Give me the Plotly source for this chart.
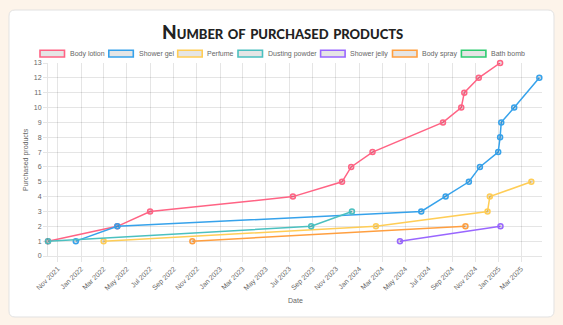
import plotly.graph_objects as go

# ---------------- data ----------------
body_lotion_dates = ["2021-10-06", "2022-04-06", "2022-07-01", "2023-07-11", "2023-11-17",
                     "2023-12-11", "2024-02-05", "2024-08-08", "2024-09-25", "2024-10-03",
                     "2024-11-10", "2025-01-05"]
body_lotion_vals = [1, 2, 3, 4, 5, 6, 7, 9, 10, 11, 12, 13]

shower_gel_dates = ["2021-12-18", "2022-04-06", "2024-06-12", "2024-08-15", "2024-10-15",
                    "2024-11-13", "2024-12-31", "2025-01-05", "2025-01-08", "2025-02-11",
                    "2025-04-18"]
shower_gel_vals = [1, 2, 3, 4, 5, 6, 7, 8, 9, 10, 12]

perfume_dates = ["2022-03-01", "2024-02-14", "2024-12-03", "2024-12-09", "2025-03-28"]
perfume_vals = [1, 2, 3, 4, 5]

dusting_powder_dates = ["2021-10-06", "2023-08-28", "2023-12-13"]
dusting_powder_vals = [1, 2, 3]

shower_jelly_dates = ["2024-04-17", "2025-01-06"]
shower_jelly_vals = [1, 2]

body_spray_dates = ["2022-10-20", "2024-10-06"]
body_spray_vals = [1, 2]

bath_bomb_dates = []
bath_bomb_vals = []

series_names = ["Body lotion", "Shower gel", "Perfume", "Dusting powder",
                "Shower jelly", "Body spray", "Bath bomb"]
series_dates = [body_lotion_dates, shower_gel_dates, perfume_dates, dusting_powder_dates,
                shower_jelly_dates, body_spray_dates, bath_bomb_dates]
series_vals = [body_lotion_vals, shower_gel_vals, perfume_vals, dusting_powder_vals,
               shower_jelly_vals, body_spray_vals, bath_bomb_vals]
series_colors = ["rgb(255,99,132)", "rgb(54,162,235)", "rgb(255,205,86)", "rgb(75,192,192)",
                 "rgb(153,102,255)", "rgb(255,159,64)", "rgb(46,204,113)"]

title_text = "Number of purchased products"
x_title = "Date"
y_title = "Purchased products"

# ---------------- layout geometry ----------------
W, H = 563, 325
L, R, T, B = 48, 21, 63, 69
PW, PH = W - L - R, H - T - B


def px_x(px):
    return (px - L) / PW


def px_y(py):
    return (H - B - py) / PH


FONT = "Liberation Sans, Arial, sans-serif"
GRID = "rgba(0,0,0,0.1)"
TXT = "#666666"

fig = go.Figure()
for name, d, v, c in zip(series_names, series_dates, series_vals, series_colors):
    fig.add_trace(go.Scatter(
        x=d, y=v, name=name, mode="lines+markers", cliponaxis=False,
        line=dict(color=c, width=1.5),
        marker=dict(size=5, color="rgba(0,0,0,0.1)", line=dict(color=c, width=1.5)),
        showlegend=False,
    ))

shapes = []
# card background with rounded corners
cx0, cx1, cy0, cy1, rad = 9, 554, 10, 317, 6
def P(x, y):
    return f"{px_x(x):.5f},{px_y(y):.5f}"
path = (f"M {P(cx0+rad, cy0)} L {P(cx1-rad, cy0)} Q {P(cx1, cy0)} {P(cx1, cy0+rad)} "
        f"L {P(cx1, cy1-rad)} Q {P(cx1, cy1)} {P(cx1-rad, cy1)} "
        f"L {P(cx0+rad, cy1)} Q {P(cx0, cy1)} {P(cx0, cy1-rad)} "
        f"L {P(cx0, cy0+rad)} Q {P(cx0, cy0)} {P(cx0+rad, cy0)} Z")
shapes.append(dict(type="path", path=path, xref="paper", yref="paper", layer="below",
                   fillcolor="white", line=dict(color="#e2e2e2", width=1)))

annotations = []
# legend
legend_x = [40, 108.8, 177.7, 238, 320.6, 392.5, 461.4]
box_w, box_y0, box_y1 = 24.5, 50.3, 57.0
for name, c, lx in zip(series_names, series_colors, legend_x):
    shapes.append(dict(type="rect", xref="paper", yref="paper",
                       x0=px_x(lx), x1=px_x(lx + box_w), y0=px_y(box_y1), y1=px_y(box_y0),
                       fillcolor="rgba(0,0,0,0.1)", line=dict(color=c, width=1.6)))
    annotations.append(dict(text=name, xref="paper", yref="paper",
                            x=px_x(lx + box_w + 3.2), y=px_y((box_y0 + box_y1) / 2),
                            xanchor="left", yanchor="middle", showarrow=False,
                            font=dict(family=FONT, size=7, color=TXT)))

# title
annotations.append(dict(text=title_text, xref="paper", yref="paper",
                        x=px_x(282), y=px_y(31), xanchor="center", yanchor="middle",
                        showarrow=False,
                        font=dict(family="Lato, DejaVu Sans, sans-serif", size=19,
                                  color="#222222", weight=900, variant="small-caps")))
# axis titles
annotations.append(dict(text=x_title, xref="paper", yref="paper", x=0.5, y=px_y(300.5),
                        xanchor="center", yanchor="middle", showarrow=False,
                        font=dict(family=FONT, size=7, color=TXT)))
annotations.append(dict(text=y_title, xref="paper", yref="paper", x=px_x(25.5), y=0.5,
                        xanchor="center", yanchor="middle", showarrow=False, textangle=-90,
                        font=dict(family=FONT, size=7, color=TXT)))

fig.update_layout(
    width=W, height=H,
    margin=dict(l=L, r=R, t=T, b=B, pad=0),
    paper_bgcolor="#fdf4ea",
    plot_bgcolor="rgba(0,0,0,0)",
    shapes=shapes, annotations=annotations,
    showlegend=False,
    font=dict(family=FONT, size=7, color=TXT),
)
fig.update_xaxes(
    type="date", range=["2021-10-06", "2025-04-25"],
    tick0="2021-11-01", dtick="M2", tickformat="%b %Y", tickangle=-45,
    showgrid=True, gridcolor=GRID, gridwidth=1,
    ticks="outside", ticklen=5, tickcolor=GRID,
    showline=True, linecolor=GRID, linewidth=1,
    zeroline=False, automargin=False,
    tickfont=dict(family=FONT, size=7, color=TXT),
)
fig.update_yaxes(
    range=[0, 13], dtick=1, tick0=0,
    showgrid=True, gridcolor=GRID, gridwidth=1,
    ticks="outside", ticklen=4, tickcolor=GRID,
    showline=True, linecolor=GRID, linewidth=1,
    zeroline=False, automargin=False,
    tickfont=dict(family=FONT, size=7, color=TXT),
)

fig.write_html("out.html")
